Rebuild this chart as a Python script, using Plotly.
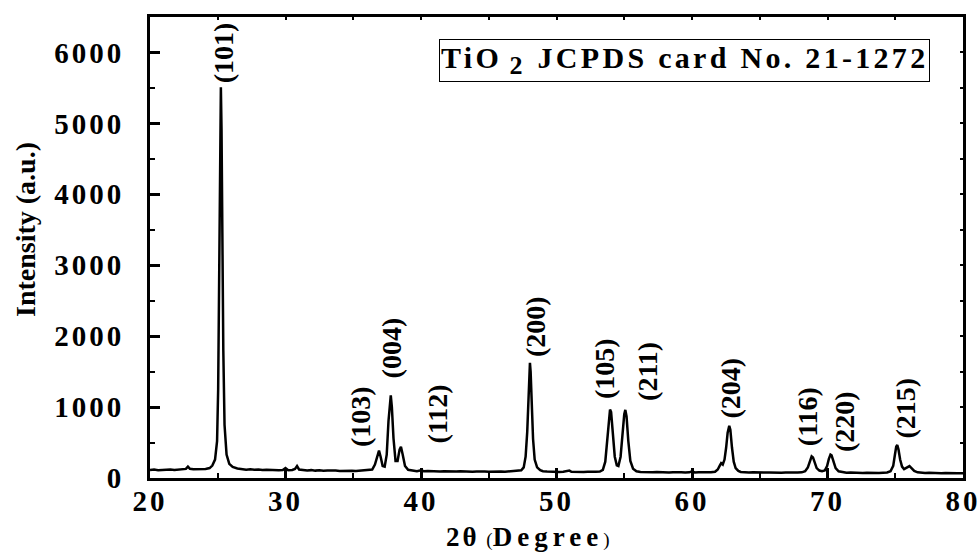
import plotly.graph_objects as go

FONT = "Liberation Serif"

# XRD pattern (2-theta in degrees, intensity in a.u.)
two_theta = [
    20.0, 20.3, 20.6, 20.9, 21.2, 21.5, 21.8, 22.1, 22.4, 22.65, 22.8, 22.95, 23.2, 23.5, 23.8, 24.1, 24.4,
    24.6, 24.8, 24.95, 25.03, 25.09, 25.14, 25.19, 25.23, 25.28, 25.34, 25.41, 25.5, 25.65, 25.85, 26.1, 26.45,
    26.8, 27.1, 27.4, 27.7, 28.0, 28.3, 28.6, 28.9, 29.2, 29.5, 29.8, 30.0, 30.2, 30.5, 30.7, 30.85, 31.0,
    31.3, 31.6, 31.9, 32.2, 32.5, 32.8, 33.1, 33.4, 33.7, 34.0, 34.3, 34.6, 34.9, 35.2, 35.5, 35.8, 36.1, 36.4,
    36.6, 36.78, 36.9, 37.02, 37.17, 37.32, 37.47, 37.6, 37.7, 37.77, 37.85, 37.97, 38.12, 38.27, 38.42, 38.52,
    38.64, 38.82, 39.05,
    39.4, 39.7, 40.0, 40.2, 40.5, 40.8, 41.1, 41.4, 41.7, 42.0, 42.3, 42.6, 42.9, 43.2, 43.5, 43.8, 44.1, 44.4,
    44.7, 45.0, 45.3, 45.6, 45.9, 46.2, 46.5, 46.8, 47.1, 47.4,
    47.58, 47.72, 47.84, 47.92, 47.99, 48.04, 48.09, 48.17, 48.27, 48.39, 48.57, 48.8,
    49.0, 49.3, 49.6, 49.9, 50.2, 50.5, 50.8, 50.95, 51.1, 51.4, 51.7, 52.0, 52.3, 52.6, 52.9, 53.2, 53.42,
    53.6, 53.75, 53.87, 53.95, 54.03, 54.15, 54.3, 54.45, 54.57, 54.73, 54.88, 55.0, 55.08, 55.17, 55.3, 55.45,
    55.65, 55.9,
    56.2, 56.5, 56.8, 57.1, 57.4, 57.7, 58.0, 58.3, 58.6, 58.9, 59.2, 59.5, 59.8, 60.0, 60.2, 60.5, 60.8, 61.1,
    61.4, 61.7,
    61.9, 62.05, 62.15, 62.27, 62.4, 62.52, 62.63, 62.75, 62.83, 62.95, 63.08, 63.22, 63.42,
    63.6, 63.9, 64.2, 64.5, 64.8, 65.1, 65.4, 65.7, 66.0, 66.3, 66.6, 66.9, 67.2, 67.5, 67.8, 68.1, 68.35,
    68.55, 68.7, 68.83, 68.93, 69.06, 69.2, 69.4, 69.6, 69.8, 69.97, 70.1, 70.22, 70.3, 70.42, 70.6, 70.82, 71.1,
    71.4, 71.7, 72.0, 72.3, 72.6, 72.9, 73.2, 73.5, 73.8, 74.1, 74.4, 74.65,
    74.85, 74.97, 75.07, 75.15, 75.24, 75.36, 75.5, 75.65, 75.8, 75.95, 76.05, 76.2, 76.4, 76.65,
    76.9, 77.2, 77.5, 77.8, 78.1, 78.4, 78.7, 79.0, 79.3, 79.6, 80.0,
]
intensity = [
    112, 118, 110, 116, 113, 120, 114, 118, 122, 128, 160, 130, 122, 126, 120, 128, 140,
    175, 260, 520, 1250, 2600, 4300, 5350, 5510, 4900, 3300, 1800, 750, 330, 200, 155, 135,
    125, 118, 122, 115, 119, 112, 116, 110, 114, 108, 112, 140, 110, 114, 128, 168, 120,
    110, 106, 111, 104, 108, 102, 107, 101, 105, 100, 104, 99, 103, 100, 104, 102, 108, 120,
    190, 330, 385, 300, 170, 160, 330, 800, 1100, 1165, 1000, 560, 240, 240, 400, 440,
    340, 170, 115,
    100, 96, 110, 95, 98, 93, 97, 92, 96, 91, 95, 90, 94, 89, 93, 88, 92, 87,
    91, 88, 92, 87, 91, 88, 93, 90, 96, 110,
    150, 300, 650, 1100, 1500, 1625, 1500, 1050, 550, 260, 150, 110,
    95, 90, 86, 90, 84, 88, 95, 105, 88, 85, 89, 84, 88, 83, 88, 92, 115,
    230, 550, 860, 965, 930, 620, 300, 180, 170, 300, 650, 900, 960, 870, 520, 240,
    130, 95,
    85, 82, 86, 80, 84, 79, 83, 78, 82, 77, 81, 78, 80, 95, 79, 82, 78, 83,
    80, 88,
    120, 175, 210, 190, 260, 430, 640, 735, 680, 430, 230, 140, 100,
    85, 80, 78, 82, 77, 80, 76, 79, 75, 78, 74, 77, 75, 78, 76, 80, 95,
    150, 250, 305, 290, 210, 140, 105, 95, 105, 170, 270, 330, 320, 240, 140, 95, 80,
    74, 77, 72, 75, 71, 74, 70, 73, 70, 74, 78, 95,
    170, 320, 440, 465, 400, 260, 160, 125, 140, 165, 168, 140, 100, 80,
    72, 70, 73, 68, 71, 67, 70, 66, 69, 67, 68,
]

# Miller-index labels and their placement (centre of rotated text, data units)
hkl_labels = ["(101)", "(103)", "(004)", "(112)", "(200)", "(105)", "(211)",
              "(204)", "(116)", "(220)", "(215)"]
hkl_x = [25.45, 35.55, 37.8, 41.2, 48.4, 53.5, 56.7, 62.85, 68.5, 71.25, 75.75]
hkl_y = [6000, 870, 1830, 900, 2140, 1550, 1500, 1270, 860, 795, 985]

x_ticks = [20, 30, 40, 50, 60, 70, 80]
y_ticks = [0, 1000, 2000, 3000, 4000, 5000, 6000]
x_minor = [25, 35, 45, 55, 65, 75]
y_minor = [500, 1500, 2500, 3500, 4500, 5500]

card_text = "JCPDS card No. 21-1272"


def spaced(s, px):
    return f'<span style="letter-spacing:{px}px">{s}</span>'


fig = go.Figure()
fig.add_trace(go.Scatter(x=two_theta, y=intensity, mode="lines",
                         line=dict(color="black", width=2.5),
                         showlegend=False, hoverinfo="skip"))
# dummy trace so the mirrored (top/right) axes are drawn
fig.add_trace(go.Scatter(x=[20], y=[0], xaxis="x2", yaxis="y2", mode="markers",
                         marker=dict(opacity=0), showlegend=False, hoverinfo="skip"))

tickfont = dict(family=FONT, size=29, color="black", weight="bold")

fig.update_layout(
    width=980, height=557,
    margin=dict(l=150, r=17, t=17, b=79),
    paper_bgcolor="white", plot_bgcolor="white",
    xaxis=dict(range=[20, 80], tickvals=x_ticks, ticktext=[spaced(str(v), 3) for v in x_ticks],
               ticks="inside", ticklen=10, tickwidth=2.5, tickcolor="black",
               showline=True, linewidth=3, linecolor="black", mirror=True,
               showgrid=False, zeroline=False, tickfont=tickfont, ticklabelstandoff=-5,
               ticklabeloverflow="allow", automargin=False,
               minor=dict(tickvals=x_minor, ticks="inside", ticklen=5, tickwidth=2, tickcolor="black")),
    yaxis=dict(range=[0, 6500], tickvals=y_ticks, ticktext=[spaced(str(v), 3) for v in y_ticks],
               ticks="inside", ticklen=10, tickwidth=2.5, tickcolor="black",
               showline=True, linewidth=3, linecolor="black", mirror=True,
               showgrid=False, zeroline=False, tickfont=tickfont, ticklabelstandoff=17,
               ticklabeloverflow="allow", automargin=False,
               minor=dict(tickvals=y_minor, ticks="inside", ticklen=5, tickwidth=2, tickcolor="black")),
    xaxis2=dict(overlaying="x", side="top", range=[20, 80], dtick=5, tick0=20,
                ticks="inside", ticklen=3, tickwidth=1.5, tickcolor="black", automargin=False,
                showticklabels=False, showgrid=False, zeroline=False, showline=False),
    yaxis2=dict(overlaying="y", side="right", range=[0, 6500], dtick=500, tick0=0,
                ticks="inside", ticklen=3, tickwidth=1.5, tickcolor="black", automargin=False,
                showticklabels=False, showgrid=False, zeroline=False, showline=False),
)

for lab, lx, ly in zip(hkl_labels, hkl_x, hkl_y):
    fig.add_annotation(x=lx, y=ly, xref="x", yref="y", text=lab, textangle=-90,
                       showarrow=False, xanchor="center", yanchor="middle",
                       font=dict(family=FONT, size=28, color="black", weight="bold"))

# card box
fig.add_annotation(x=59.45, y=5890, xref="x", yref="y", showarrow=False,
                   xanchor="center", yanchor="middle",
                   text=spaced("TiO", 3.3) + '\u00a0<sub><span style="font-size:26px">2</span></sub>\u00a0\u00a0'
                        + spaced(card_text, 3.3),
                   font=dict(family=FONT, size=30, color="black", weight="bold"),
                   bordercolor="black", borderwidth=1, borderpad=1, bgcolor="white")

# axis titles
fig.add_annotation(x=-0.1538, y=0.54, xref="paper", yref="paper", showarrow=False,
                   text="Intensity (a.u.)", textangle=-90, xanchor="center", yanchor="middle",
                   font=dict(family=FONT, size=28, color="black", weight="bold"))
fig.add_annotation(x=(527 - 150) / 813, y=-(537 - 478) / 461, xref="paper", yref="paper",
                   showarrow=False, xanchor="center", yanchor="middle",
                   text=spaced("2θ", 3) + ' <span style="font-size:19px;font-weight:normal">(</span>'
                        + spaced("Degree", 5) + '<span style="font-size:19px;font-weight:normal">)</span>',
                   font=dict(family=FONT, size=27, color="black", weight="bold"))

fig.write_html("out.html")
